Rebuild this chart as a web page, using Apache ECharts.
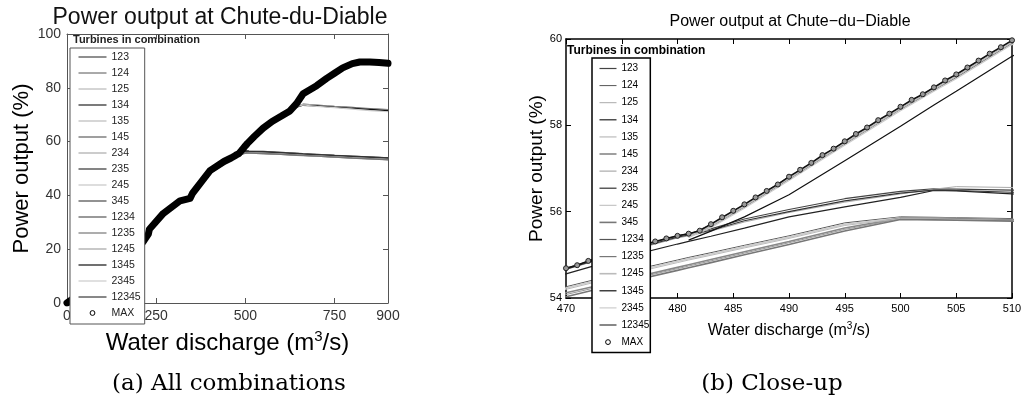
<!DOCTYPE html>
<html>
<head>
<meta charset="utf-8">
<script src="https://cdn.jsdelivr.net/npm/echarts@6/dist/echarts.min.js"></script>
<style>
html, body { margin: 0; padding: 0; background: #fff; }
#chart { width: 1026px; height: 407px; }
</style>
</head>
<body>
<div id="chart"></div>
<script>
// Water discharge (m3/s) at which each turbine combination is sampled
const comboDischarge = [350, 400, 450, 470, 475, 480, 481, 483, 486, 490, 495, 500, 503, 505, 510,
  550, 600, 625, 644, 662, 700, 750, 800, 825, 850, 900];

// Power output (%) per turbine combination; null = combination not operable
const out123 = [40.6, 49.2, 53.1, 54.69, 55.09, 55.44, 55.49, 55.60, 55.83, 56.05, 56.30, 56.47, 56.53, 56.52, 56.50, 56.35, 56.00, 55.80, 55.65, 55.50, 55.25, 54.90, 54.60, 54.45, 54.30, 53.98];
const out124 = [39.9, 48.5, 52.6, 54.26, 54.58, 54.88, 54.94, 55.05, 55.22, 55.44, 55.74, 55.88, 55.87, 55.86, 55.84, 55.65, 55.35, 55.20, 55.05, 54.95, 54.70, 54.35, 54.00, 53.85, 53.70, 53.40];
const out125 = [40.4, 49.0, 53.0, 54.66, 55.04, 55.39, 55.44, 55.55, 55.76, 55.98, 56.22, 56.41, 56.52, 56.58, 56.56, 56.38, 56.05, 55.85, 55.70, 55.55, 55.30, 54.95, 54.65, 54.50, 54.35, 54.02];
const out134 = [40.2, 48.8, 52.9, 54.56, 54.93, 55.25, 55.31, 55.43, 55.62, 55.88, 56.11, 56.33, 56.49, 56.48, 56.41, 56.20, 55.85, 55.65, 55.50, 55.35, 55.10, 54.75, 54.45, 54.30, 54.15, 53.85];
const out135 = [39.85, 48.45, 52.55, 54.23, 54.55, 54.85, 54.91, 55.02, 55.19, 55.41, 55.71, 55.86, 55.85, 55.84, 55.81, 55.62, 55.32, 55.17, 55.02, 54.92, 54.67, 54.32, 53.97, 53.82, 53.67, 53.37];
const out145 = [39.7, 48.3, 52.45, 54.12, 54.41, 54.71, 54.77, 54.89, 55.07, 55.31, 55.62, 55.85, 55.85, 55.84, 55.82, 55.62, 55.32, 55.16, 55.02, 54.90, 54.66, 54.31, 53.96, 53.80, 53.64, 53.33];
const out234 = [39.65, 48.25, 52.4, 54.08, 54.38, 54.68, 54.74, 54.86, 55.04, 55.28, 55.59, 55.84, 55.83, 55.82, 55.80, 55.60, 55.30, 55.14, 55.00, 54.88, 54.64, 54.29, 53.94, 53.78, 53.62, 53.31];
const out235 = [40.5, 49.1, 53.05, 54.67, 55.06, 55.41, 55.46, 55.57, 55.79, 56.00, 56.25, 56.43, 56.50, 56.49, 56.45, 56.28, 55.95, 55.75, 55.60, 55.45, 55.20, 54.85, 54.55, 54.40, 54.25, 53.92];
const out245 = [39.8, 48.4, 52.5, 54.20, 54.52, 54.82, 54.88, 54.99, 55.16, 55.38, 55.68, 55.84, 55.83, 55.82, 55.79, 55.60, 55.30, 55.15, 55.00, 54.90, 54.65, 54.30, 53.95, 53.80, 53.65, 53.35];
const out345 = [39.6, 48.2, 52.35, 54.03, 54.34, 54.64, 54.70, 54.82, 55.00, 55.24, 55.55, 55.82, 55.81, 55.80, 55.78, 55.58, 55.28, 55.12, 54.98, 54.86, 54.62, 54.27, 53.92, 53.76, 53.60, 53.28];
const out1234 = [null, null, null, null, null, null, 55.46, 55.70, 56.16, 56.80, 57.62, 58.42, 58.87, 59.17, 59.96, 65.0, 69.4, 71.4, 73.3, 73.9, 73.6, 73.1, 72.7, 72.5, 72.3, 71.9];
const out1235 = [null, null, null, null, null, null, 55.41, 55.65, 56.11, 56.75, 57.57, 58.37, 58.82, 59.11, 59.90, 64.8, 69.2, 71.2, 73.1, 73.7, 73.3, 72.8, 72.3, 72.1, 71.8, 71.4];
const out1245 = [null, null, null, null, null, null, 55.43, 55.67, 56.13, 56.77, 57.59, 58.39, 58.84, 59.14, 59.93, 64.9, 69.3, 71.3, 73.2, 73.8, 73.4, 72.9, 72.4, 72.2, 72.0, 71.6];
const out1345 = [null, null, null, null, null, null, 55.34, 55.55, 55.88, 56.39, 57.18, 57.98, 58.47, 58.79, 59.60, 64.2, 68.7, 70.8, 72.8, 73.5, 73.3, 72.8, 72.4, 72.2, 72.0, 71.5];
const out2345 = [null, null, null, null, null, null, 55.40, 55.63, 56.08, 56.72, 57.54, 58.34, 58.79, 59.08, 59.87, 64.7, 69.1, 71.1, 73.0, 73.6, 73.1, 72.6, 72.1, 71.8, 71.5, 71.1];
const out12345 = [null, null, null, null, null, null, null, null, null, null, null, null, null, null, null, null, null, 71.0, 74.0, 77.6, 80.7, 85.4, 88.8, 89.6, 89.6, 89.2];

// Best achievable output over all combinations
const maxDischarge = [0, 60, 120, 180, 214, 228, 231, 270, 317, 345, 352, 401, 440, 460,
  470, 471, 472, 473, 474, 475, 476, 477, 478, 479, 480, 481, 482, 483, 484, 485, 486, 487, 488, 489, 490,
  491, 492, 493, 494, 495, 496, 497, 498, 499, 500, 501, 502, 503, 504, 505, 506, 507, 508, 509, 510,
  525, 550, 575, 600, 625, 644, 662, 700, 728, 750, 773, 800, 821, 849, 875, 900];
const maxOutput = [0, 5.5, 11.5, 18.5, 22.8, 25.6, 27.4, 33.3, 38.0, 38.9, 40.8, 49.2, 52.6, 53.9,
  54.69, 54.76, 54.86, 54.94, 55.02, 55.09, 55.16, 55.24, 55.31, 55.38, 55.44, 55.49, 55.56, 55.71, 55.87, 56.02, 56.17, 56.33, 56.48, 56.63, 56.81,
  56.97, 57.13, 57.31, 57.46, 57.63, 57.80, 57.95, 58.12, 58.27, 58.43, 58.59, 58.72, 58.88, 59.04, 59.18, 59.34, 59.50, 59.66, 59.81, 59.97,
  61.9, 65.0, 67.5, 69.4, 71.4, 74.2, 77.8, 80.8, 83.5, 85.4, 87.4, 89.0, 89.6, 89.6, 89.4, 89.1];

const combinationNames = ['123', '124', '125', '134', '135', '145', '234', '235', '245', '345',
  '1234', '1235', '1245', '1345', '2345', '12345'];
const combinationOutputs = {
  '123': out123, '124': out124, '125': out125, '134': out134, '135': out135, '145': out145,
  '234': out234, '235': out235, '245': out245, '345': out345, '1234': out1234, '1235': out1235,
  '1245': out1245, '1345': out1345, '2345': out2345, '12345': out12345
};

// Tick settings
const fullTicks = { min: 0, max: 900, interval: 250 };
const fullOutputTicks = { min: 0, max: 100, interval: 20 };
const zoomTicks = { min: 470, max: 510, interval: 5 };
const zoomOutputTicks = { min: 54, max: 60, interval: 2 };

// Line appearance per combination: [colour, width]
const lineLook = {
  '123': ['#444', 1.2], '124': ['#555', 1], '125': ['#aaa', 1], '134': ['#222', 1.2],
  '135': ['#ccc', 1.6], '145': ['#888', 1.6], '234': ['#999', 1], '235': ['#333', 1.2],
  '245': ['#bbb', 1], '345': ['#777', 1.6], '1234': ['#555', 1.2], '1235': ['#777', 1.2],
  '1245': ['#bbb', 1.6], '1345': ['#111', 1.2], '2345': ['#ccc', 1.2], '12345': ['#111', 1]
};

const SANS = "'Liberation Sans', Arial, Helvetica, sans-serif";
const SERIF = "'DejaVu Serif', 'Liberation Serif', serif";

function pairs(xs, ys) {
  const out = [];
  xs.forEach((x, i) => { if (ys[i] !== null && ys[i] !== undefined) out.push([x, ys[i]]); });
  return out;
}

const series = [];
// Left panel: all combinations (axes 0)
combinationNames.forEach(name => {
  const [color, width] = lineLook[name];
  series.push({
    type: 'line', name, xAxisIndex: 0, yAxisIndex: 0,
    data: pairs(comboDischarge, combinationOutputs[name]),
    symbol: 'none', lineStyle: { color, width }, itemStyle: { color },
    animation: false, silent: true, z: 2
  });
});
series.push({
  type: 'line', name: 'MAX', xAxisIndex: 0, yAxisIndex: 0,
  data: pairs(maxDischarge, maxOutput),
  symbol: 'circle', showSymbol: false,
  lineStyle: { color: '#000', width: 7, cap: 'round', join: 'round' },
  itemStyle: { color: '#000' }, animation: false, silent: true, z: 3
});
// Right panel: close-up (axes 2)
combinationNames.forEach(name => {
  const [color, width] = lineLook[name];
  series.push({
    type: 'line', name, xAxisIndex: 2, yAxisIndex: 2,
    data: pairs(comboDischarge, combinationOutputs[name]),
    symbol: 'none', lineStyle: { color, width }, itemStyle: { color },
    animation: false, silent: true, clip: true, z: 2
  });
});
series.push({
  type: 'line', name: 'MAX', xAxisIndex: 2, yAxisIndex: 2,
  data: pairs(maxDischarge, maxOutput),
  symbol: 'circle', symbolSize: 5,
  lineStyle: { color: '#111', width: 1.5 },
  itemStyle: { color: '#999', borderColor: '#222', borderWidth: 1 },
  animation: false, silent: true, clip: true, z: 3
});

const legendNames = combinationNames.concat(['MAX']);
const legendData = legendNames.map(n => n === 'MAX'
  ? { name: 'MAX', itemStyle: { opacity: 1, color: '#fff', borderColor: '#000', borderWidth: 1 }, lineStyle: { opacity: 0 } }
  : n);

function boxAxis(base, gridIndex, position, opts) {
  return Object.assign({
    type: 'value', gridIndex, position,
    min: base.min, max: base.max, interval: base.interval,
    splitLine: { show: false },
    axisTick: { show: true, inside: true, length: 5, lineStyle: { color: opts.color, width: 1 } },
    axisLine: { show: true, onZero: false, lineStyle: { color: opts.color, width: opts.width } }
  }, opts.extra || {});
}

const supName = (size) => ({
  n: { fontSize: size, lineHeight: Math.round(size * 1.2), fontFamily: SANS, color: '#000' },
  s: { fontSize: Math.round(size * 0.64), lineHeight: Math.round(size * 0.28), verticalAlign: 'top', fontFamily: SANS, color: '#000' }
});

const option = {
  backgroundColor: '#fff',
  animation: false,
  grid: [
    { left: 67, top: 34, width: 321, height: 269 },
    { left: 566, top: 39, width: 446, height: 259 }
  ],
  xAxis: [
    boxAxis(fullTicks, 0, 'bottom', { color: '#555', width: 1, extra: {
      axisLabel: { fontSize: 14, color: '#333', fontFamily: SANS, margin: 6 },
      name: '{n|Water discharge (m}{s|3}{n|/s)}', nameLocation: 'middle', nameGap: 26,
      nameTextStyle: { rich: supName(24) }
    } }),
    boxAxis(fullTicks, 0, 'top', { color: '#555', width: 1, extra: { axisLabel: { show: false } } }),
    boxAxis(zoomTicks, 1, 'bottom', { color: '#000', width: 1.5, extra: {
      axisLabel: { fontSize: 11, color: '#000', fontFamily: SANS, margin: 5 },
      name: '{n|Water discharge (m}{s|3}{n|/s)}', nameLocation: 'middle', nameGap: 23,
      nameTextStyle: { rich: supName(16) }
    } }),
    boxAxis(zoomTicks, 1, 'top', { color: '#000', width: 1.5, extra: { axisLabel: { show: false } } })
  ],
  yAxis: [
    boxAxis(fullOutputTicks, 0, 'left', { color: '#555', width: 1, extra: {
      axisLabel: { fontSize: 14, color: '#333', fontFamily: SANS, margin: 6 },
      name: 'Power output (%)', nameLocation: 'middle', nameGap: 34,
      nameTextStyle: { fontSize: 22, fontFamily: SANS, color: '#000' }
    } }),
    boxAxis(fullOutputTicks, 0, 'right', { color: '#555', width: 1, extra: { axisLabel: { show: false } } }),
    boxAxis(zoomOutputTicks, 1, 'left', { color: '#000', width: 1.5, extra: {
      axisLabel: { fontSize: 11, color: '#000', fontFamily: SANS, margin: 4 },
      name: 'Power output (%)', nameLocation: 'middle', nameGap: 14,
      nameTextStyle: { fontSize: 19, fontFamily: SANS, color: '#000' }
    } }),
    boxAxis(zoomOutputTicks, 1, 'right', { color: '#000', width: 1.5, extra: { axisLabel: { show: false } } })
  ],
  legend: [
    {
      data: legendData, orient: 'vertical', left: 70, top: 48,
      padding: [3, 4, 5, 5], itemWidth: 28, itemHeight: 6, itemGap: 4,
      selectedMode: false, backgroundColor: '#fff', borderColor: '#555', borderWidth: 1,
      textStyle: { fontSize: 10.5, lineHeight: 12, color: '#222', fontFamily: SANS },
      itemStyle: { opacity: 0 }, lineStyle: { width: 'inherit' }, z: 10
    },
    {
      data: legendData, orient: 'vertical', left: 592, top: 58,
      padding: [4, 1, 4, 4], itemWidth: 17, itemHeight: 6, itemGap: 4.1,
      selectedMode: false, backgroundColor: '#fff', borderColor: '#000', borderWidth: 1.5,
      textStyle: { fontSize: 10, lineHeight: 13, color: '#000', fontFamily: SANS },
      itemStyle: { opacity: 0 }, lineStyle: { width: 'inherit' }, z: 10
    }
  ],
  graphic: [
    { type: 'text', x: 220, y: 18, z: 20, style: { text: 'Power output at Chute-du-Diable', font: '23px ' + SANS, fill: '#111', align: 'center', verticalAlign: 'middle' } },
    { type: 'text', x: 790, y: 22, z: 20, style: { text: 'Power output at Chute\u2212du\u2212Diable', font: '16px ' + SANS, fill: '#000', align: 'center', verticalAlign: 'middle' } },
    { type: 'text', x: 73, y: 40, z: 20, style: { text: 'Turbines in combination', font: 'bold 11px ' + SANS, fill: '#222', align: 'left', verticalAlign: 'middle' } },
    { type: 'text', x: 567, y: 51, z: 20, style: { text: 'Turbines in combination', font: 'bold 12px ' + SANS, fill: '#000', align: 'left', verticalAlign: 'middle' } },
    { type: 'text', x: 229, y: 384, z: 20, style: { text: '(a) All combinations', font: '23px ' + SERIF, fill: '#000', align: 'center', verticalAlign: 'middle' } },
    { type: 'text', x: 772, y: 384, z: 20, style: { text: '(b) Close-up', font: '23px ' + SERIF, fill: '#000', align: 'center', verticalAlign: 'middle' } }
  ],
  series
};

const chart = echarts.init(document.getElementById('chart'), null, { renderer: 'canvas' });
chart.setOption(option);
</script>
</body>
</html>
